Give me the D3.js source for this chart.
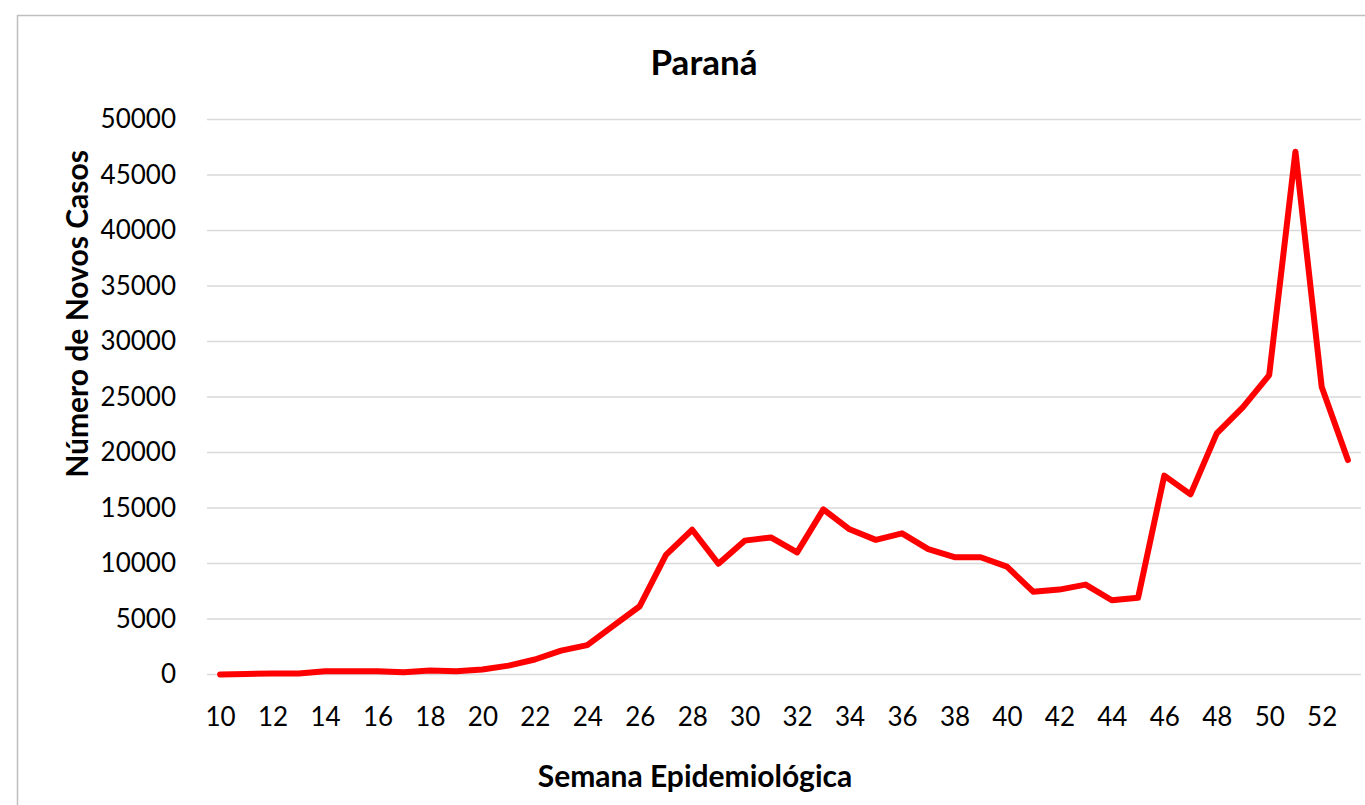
<!DOCTYPE html>
<html>
<head>
<meta charset="utf-8">
<script src="https://cdn.jsdelivr.net/npm/d3@7"></script>
<style>
    body { margin: 0; background: #fff; }
    text { font-family: Lato, "Open Sans", sans-serif; fill: #000; }
</style>
</head>
<body>
<script>
    // semanas epidemiologicas e novos casos (Paraná)
    let semanas = [10, 11, 12, 13, 14, 15, 16, 17, 18, 19, 20, 21, 22, 23, 24, 25, 26, 27, 28, 29, 30, 31,
        32, 33, 34, 35, 36, 37, 38, 39, 40, 41, 42, 43, 44, 45, 46, 47, 48, 49, 50, 51, 52, 53];
    let casos = [0, 50, 80, 100, 300, 300, 300, 200, 350, 300, 450, 800, 1350, 2150, 2650, 4400, 6150, 10780,
        13040, 9980, 12060, 12350, 11000, 14880, 13080, 12130, 12720, 11300, 10570, 10560, 9720, 7460,
        7650, 8100, 6690, 6910, 17920, 16230, 21720, 24080, 26980, 47100, 25930, 19320];
    let xTicks = [10, 12, 14, 16, 18, 20, 22, 24, 26, 28, 30, 32, 34, 36, 38, 40, 42, 44, 46, 48, 50, 52];
    let yTicks = [0, 5000, 10000, 15000, 20000, 25000, 30000, 35000, 40000, 45000, 50000];

    let width = 1365, height = 805;
    let svg = d3.select("body").append("svg")
        .attr("width", width)
        .attr("height", height);

    // moldura do grafico
    svg.append("rect")
        .attr("x", 17.5).attr("y", 15.5)
        .attr("width", 1400).attr("height", 900)
        .attr("fill", "none")
        .attr("stroke", "#bfbfbf")
        .attr("stroke-width", 1.5);

    let x = d3.scaleLinear().domain([9.5, 53.5]).range([207, 1361]);
    let y = d3.scaleLinear().domain([0, 50000]).range([674.5, 119.5]);

    svg.append("g")
        .selectAll("line")
        .data(yTicks).enter().append("line")
        .attr("x1", x.range()[0]).attr("x2", x.range()[1])
        .attr("y1", d => y(d)).attr("y2", d => y(d))
        .attr("stroke", "#d9d9d9")
        .attr("stroke-width", 1.5);

    let yAxis = svg.append("g")
        .attr("transform", "translate(" + 188 + ",0)")
        .call(d3.axisLeft(y).tickValues(yTicks).tickSize(0).tickPadding(12).tickFormat(d3.format("d")));
    yAxis.select(".domain").remove();
    yAxis.selectAll("text").attr("font-size", 26).attr("font-family", "Lato, sans-serif").attr("fill", "#000");

    let xAxis = svg.append("g")
        .attr("transform", "translate(0," + 726 + ")")
        .call(d3.axisBottom(x).tickValues(xTicks).tickSize(0));
    xAxis.select(".domain").remove();
    xAxis.selectAll("text")
        .attr("y", 0).attr("dy", 0)
        .attr("font-size", 26).attr("font-family", "Lato, sans-serif").attr("fill", "#000");

    let line = d3.line()
        .x((d, i) => x(semanas[i]))
        .y(d => y(d));
    svg.append("path")
        .datum(casos)
        .attr("d", line)
        .attr("fill", "none")
        .attr("stroke", "#ff0000")
        .attr("stroke-width", 6)
        .attr("stroke-linejoin", "round")
        .attr("stroke-linecap", "round");

    svg.append("text")
        .attr("x", 704).attr("y", 75)
        .attr("text-anchor", "middle")
        .attr("font-size", 35).attr("font-weight", "bold")
        .text("Paraná");

    svg.append("text")
        .attr("x", 695).attr("y", 787)
        .attr("text-anchor", "middle")
        .attr("font-size", 30).attr("font-weight", "bold")
        .text("Semana Epidemiológica");

    svg.append("text")
        .attr("transform", "translate(" + 88 + "," + 314 + ") rotate(-90)")
        .attr("text-anchor", "middle")
        .attr("font-size", 30).attr("font-weight", "bold")
        .text("Número de Novos Casos");
</script>
</body>
</html>
